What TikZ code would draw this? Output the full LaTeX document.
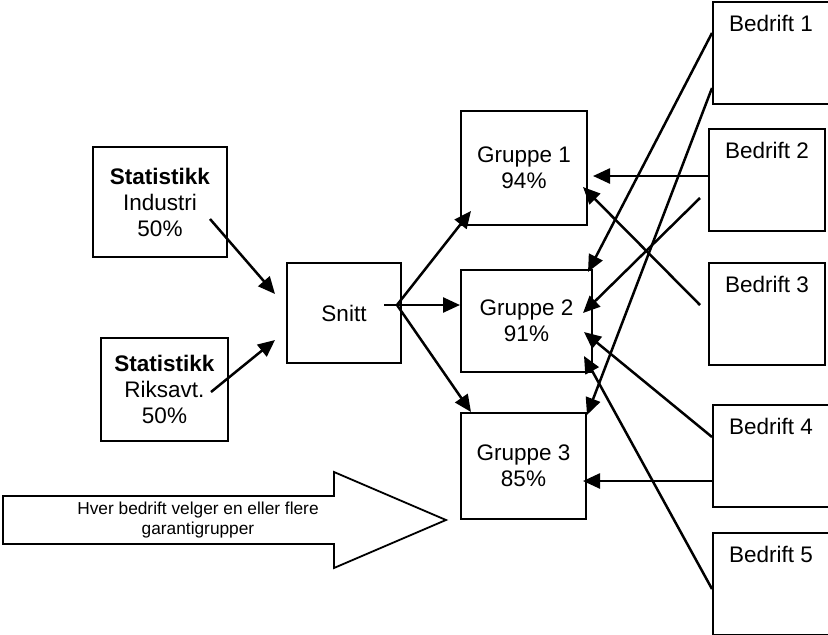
\documentclass[tikz,border=0pt]{standalone}
\usepackage{fontspec}
\setmainfont{Liberation Sans}
\usetikzlibrary{arrows.meta}

\tikzset{
  boks/.style={draw, line width=1.8pt, inner sep=0pt, align=center,
    font=\fontsize{22.5}{26}\selectfont},
  bedrift/.style={boks, anchor=north west, minimum width=116pt,
    text height=30pt, text depth=72pt},
  pil/.style={->, line width=2.5pt},
  >={Triangle[length=17pt,width=15pt]}
}

\begin{document}
\begin{tikzpicture}[x=1pt,y=-1pt]
      \useasboundingbox (0,0) rectangle (828,635);
      % statistikk og snitt
      \node[boks, minimum width=134pt, minimum height=110pt] (ind) at (160,202) {\textbf{Statistikk}\\Industri\\50\%};
      \node[boks, minimum width=127pt, minimum height=103pt] (riks) at (164.5,389.5) {\textbf{Statistikk}\\Riksavt.\\50\%};
      \node[boks, minimum width=114pt, minimum height=100pt] (snitt) at (344,313) {Snitt};
      % garantigrupper
      \node[boks, minimum width=126pt, minimum height=114pt] (g1) at (524,168) {Gruppe 1\\94\%};
      \node[boks, minimum width=131pt, minimum height=102pt] (g2) at (526.5,321) {Gruppe 2\\91\%};
      \node[boks, minimum width=125pt, minimum height=106pt] (g3) at (523.5,466) {Gruppe 3\\85\%};
      % bedrifter
      \node[bedrift] (b1) at (712,1) {Bedrift 1};
      \node[bedrift] (b2) at (708,128) {Bedrift 2};
      \node[bedrift] (b3) at (708,262) {Bedrift 3};
      \node[bedrift] (b4) at (712,404) {Bedrift 4};
      \node[bedrift] (b5) at (712,532) {Bedrift 5};

      \coordinate (ind-ut) at (210,219);
      \coordinate (riks-ut) at (211,392);
      \coordinate (snitt-inn1) at (275,294);
      \coordinate (snitt-inn2) at (275,340);
      \coordinate (snitt-ut) at (384,305);
      \coordinate (delt) at (397,305);
      \coordinate (g1-inn) at (471,211);
      \coordinate (g2-inn) at (460,305);
      \coordinate (g3-inn) at (471,412);
      \draw[pil] (ind-ut) -- (snitt-inn1);
      \draw[pil] (riks-ut) -- (snitt-inn2);
      \draw[line width=2.5pt] (snitt-ut) -- (delt);
      \draw[pil] (delt) -- (g1-inn);
      \draw[pil] (delt) -- (g2-inn);
      \draw[pil] (delt) -- (g3-inn);

      % fra bedriftene
      \coordinate (b1-a) at (712,33);
      \coordinate (b1-b) at (712,88);
      \coordinate (b2-a) at (708,176);
      \coordinate (b2-b) at (700,198);
      \coordinate (b3-a) at (700,305);
      \coordinate (b4-a) at (712,437);
      \coordinate (b4-b) at (712,481);
      \coordinate (b5-a) at (712,589);
      \coordinate (g1-h1) at (593,176);
      \coordinate (g1-h2) at (583,187);
      \coordinate (g2-h1) at (588,272);
      \coordinate (g2-h2) at (583,313);
      \coordinate (g2-h3) at (584,332);
      \coordinate (g2-h4) at (584,356);
      \coordinate (g3-h1) at (587,415);
      \coordinate (g3-h2) at (583,481);
      \draw[pil] (b1-a) -- (g2-h1);
      \draw[pil] (b1-b) -- (g3-h1);
      \draw[pil] (b2-a) -- (g1-h1);
      \draw[pil] (b2-b) -- (g2-h2);
      \draw[pil] (b3-a) -- (g1-h2);
      \draw[pil] (b4-a) -- (g2-h3);
      \draw[pil] (b4-b) -- (g3-h2);
      \draw[pil] (b5-a) -- (g2-h4);

      % stor pil
      \draw[line width=1.8pt] (3,496) -- (334,496) -- (334,472) -- (446,520) -- (334,568) -- (334,544) -- (3,544) -- cycle;
      \node[align=center, font=\fontsize{17.3}{19.5}\selectfont] (tekst) at (198,520) {Hver bedrift velger en eller flere\\garantigrupper};
    \end{tikzpicture}
\end{document}
